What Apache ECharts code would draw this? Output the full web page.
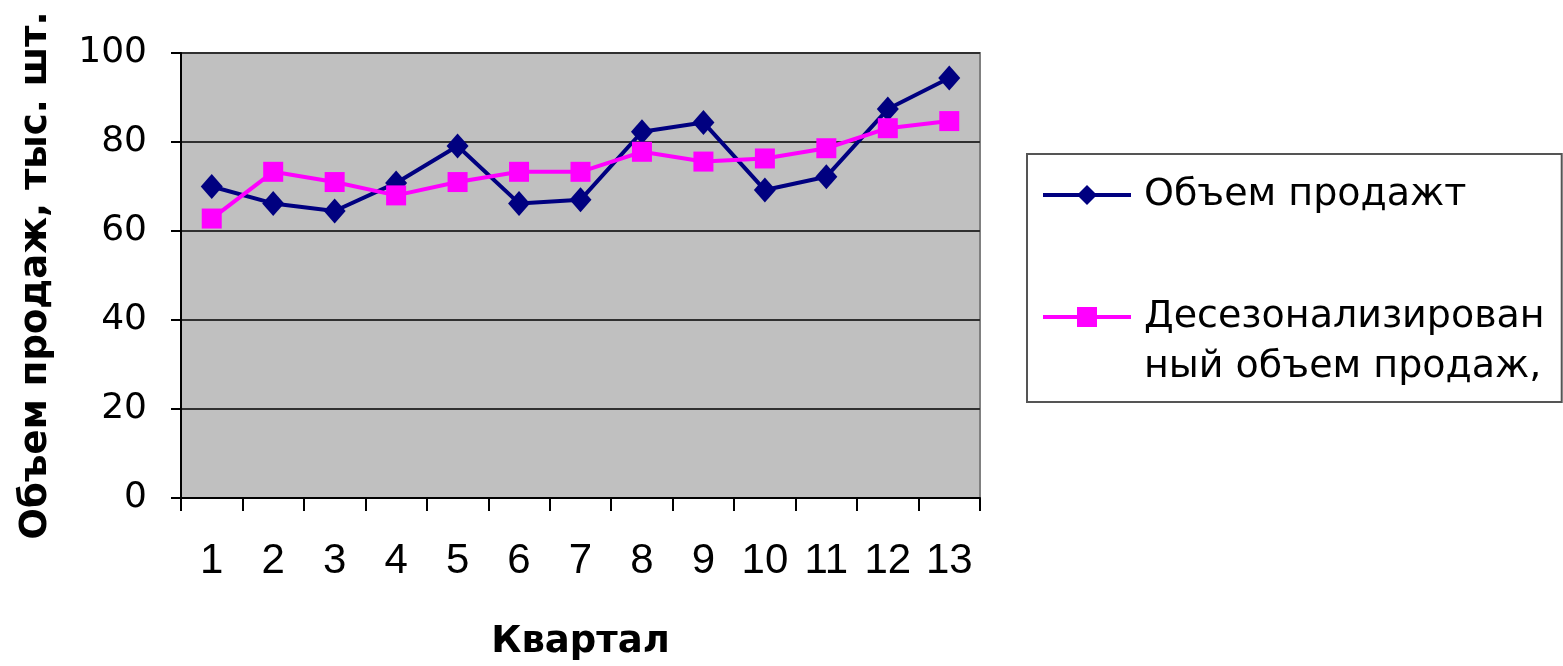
<!DOCTYPE html>
<html>
<head>
<meta charset="utf-8">
<script src="https://cdn.jsdelivr.net/npm/echarts@6/dist/echarts.min.js"></script>
<style>
html,body{margin:0;padding:0;background:#fff;}
#chart{width:1563px;height:666px;}
</style>
</head>
<body>
<div id="chart"></div>
<script>
const quarters = ['1','2','3','4','5','6','7','8','9','10','11','12','13'];
const salesName = 'Объем продажт';
const salesValues = [70, 66.2, 64.5, 70.8, 79.1, 66.2, 67, 82.3, 84.4, 69.2, 72.2, 87.4, 94.4];
const deseasName = 'Десезонализированный объем продаж,';
const deseasLines = ['Десезонализирован', 'ный объем продаж,'];
const deseasValues = [62.8, 73.3, 71.0, 68.0, 71.0, 73.3, 73.3, 77.8, 75.6, 76.3, 78.6, 83.1, 84.7];
const yTicks = [0, 20, 40, 60, 80, 100];
const yTitle = 'Объем продаж, тыс. шт.';
const xTitle = 'Квартал';

const FONT = '"Liberation Sans", Arial, sans-serif';
const WIDE = '"DejaVu Sans", sans-serif';
const chart = echarts.init(document.getElementById('chart'), null, {renderer: 'canvas'});
chart.setOption({
  animation: false,
  backgroundColor: '#ffffff',
  grid: {
    left: 181, right: 583, top: 53, bottom: 167,
    show: true, backgroundColor: '#c0c0c0', borderColor: '#808080', borderWidth: 2
  },
  legend: {
    orient: 'vertical',
    left: 1027, top: 154,
    padding: [16, 17, 10, 14],
    itemGap: 22,
    itemWidth: 88,
    itemHeight: 25,
    selectedMode: false,
    borderColor: '#555', borderWidth: 2, backgroundColor: '#fff', borderRadius: 0,
    lineStyle: {width: 4},
    data: [salesName, deseasName],
    formatter: function (name) {
      return name === deseasName ? '\n' + deseasLines.join('\n') : name;
    },
    textStyle: {fontFamily: WIDE, fontSize: 38, color: '#000', lineHeight: 50, padding: [0, 0, 0, 8]}
  },
  xAxis: {
    type: 'category',
    data: quarters,
    boundaryGap: true,
    name: xTitle,
    nameLocation: 'middle',
    nameGap: 126,
    nameTextStyle: {fontFamily: WIDE, fontSize: 37, fontWeight: 'bold', color: '#000'},
    axisLine: {show: true, lineStyle: {color: '#000', width: 2}},
    axisTick: {show: true, length: 13, alignWithLabel: false, lineStyle: {color: '#000', width: 2}},
    axisLabel: {fontFamily: FONT, fontSize: 42, color: '#000', margin: 42, interval: 0},
    splitLine: {show: false}
  },
  yAxis: {
    type: 'value',
    min: yTicks[0], max: yTicks[yTicks.length - 1], interval: 20,
    name: yTitle,
    nameLocation: 'middle',
    nameGap: 126,
    nameTextStyle: {fontFamily: WIDE, fontSize: 37, fontWeight: 'bold', color: '#000'},
    axisLine: {show: true, lineStyle: {color: '#000', width: 2}},
    axisTick: {show: true, length: 10, lineStyle: {color: '#000', width: 2}},
    axisLabel: {fontFamily: WIDE, fontSize: 36, color: '#000', margin: 34},
    splitLine: {show: true, lineStyle: {color: '#303030', width: 2}}
  },
  series: [
    {
      name: salesName, type: 'line', data: salesValues,
      symbol: 'diamond', symbolSize: [22, 25],
      lineStyle: {color: '#000080', width: 4},
      itemStyle: {color: '#000080'}
    },
    {
      name: deseasName, type: 'line', data: deseasValues,
      symbol: 'rect', symbolSize: 20,
      lineStyle: {color: '#ff00ff', width: 4},
      itemStyle: {color: '#ff00ff'}
    }
  ]
});
</script>
</body>
</html>
